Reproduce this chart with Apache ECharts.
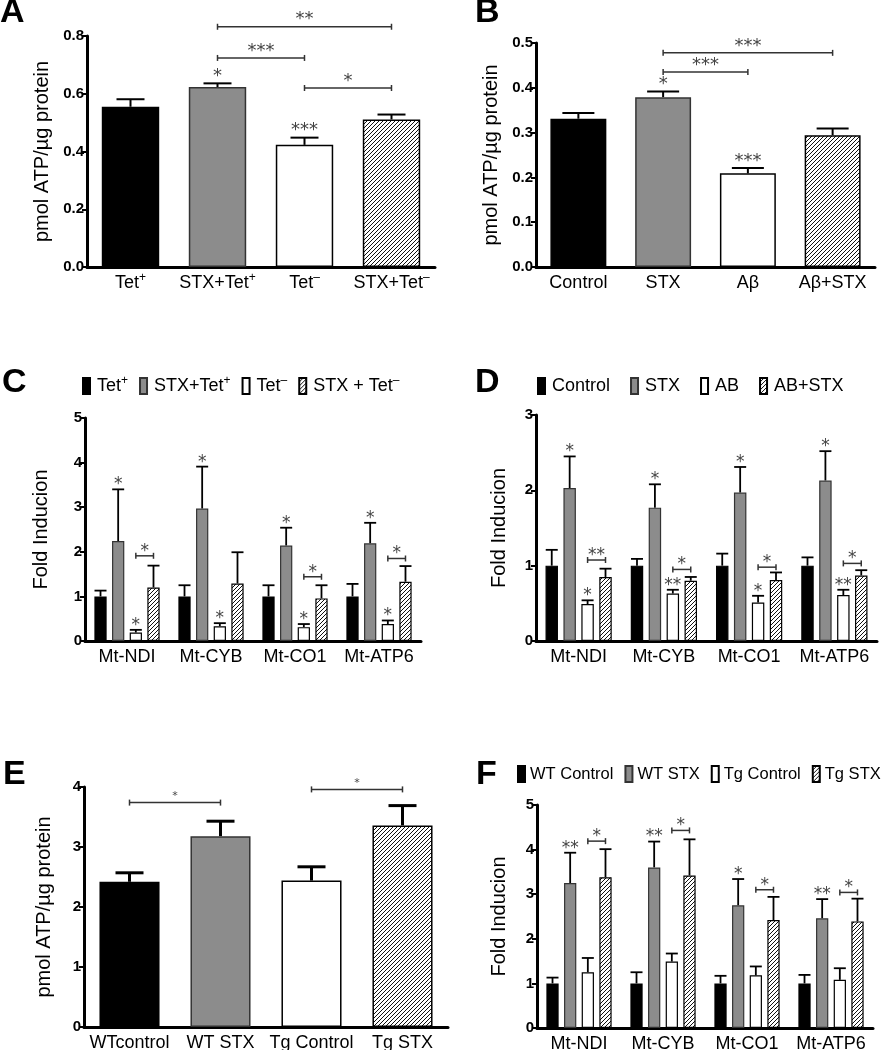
<!DOCTYPE html>
<html><head><meta charset="utf-8">
<script src="https://cdn.jsdelivr.net/npm/echarts@6/dist/echarts.min.js"></script>
<style>html,body{margin:0;padding:0;background:#fff}#c{width:882px;height:1050px}</style>
</head><body><div id="c"></div>
<script>
// ---------------- DATA ----------------
// Panel A
const catsA = ['Tet+', 'STX+Tet+', 'Tet-', 'STX+Tet-'];
const valsA = [0.555, 0.623, 0.423, 0.511];
const errA  = [0.581, 0.636, 0.448, 0.528];
const starsA = ['', '*', '***', ''];
const bracketsA = [[1, 0.832, 3, '**'], [1, 0.724, 2, '***'], [2, 0.62, 3, '*']];
// Panel B
const catsB = ['Control', 'STX', 'Aβ', 'Aβ+STX'];
const valsB = [0.331, 0.379, 0.209, 0.294];
const errB  = [0.344, 0.392, 0.221, 0.309];
const starsB = ['', '*', '***', ''];
const bracketsB = [[1, 0.478, 3, '***'], [1, 0.435, 2, '***']];
// Panel C
const genes = ['Mt-NDI', 'Mt-CYB', 'Mt-CO1', 'Mt-ATP6'];
const namesC = ['Tet+', 'STX+Tet+', 'Tet-', 'STX + Tet-'];
const valsC = [
  [1.0, 1.0, 1.0, 1.0],
  [2.24, 2.97, 2.14, 2.19],
  [0.19, 0.33, 0.31, 0.38],
  [1.20, 1.29, 0.955, 1.33]
];
const errC = [
  [1.13, 1.25, 1.25, 1.28],
  [3.40, 3.91, 2.54, 2.65],
  [0.25, 0.40, 0.38, 0.46],
  [1.69, 1.99, 1.25, 1.68]
];
const starsC = [
  ['', '', '', ''],
  ['*', '*', '*', '*'],
  ['*', '*', '*', '*'],
  ['', '', '', '']
];
const bracketsC = [[0, 1.91, '*'], [2, 1.44, '*'], [3, 1.85, '*']];
// Panel D
const namesD = ['Control', 'STX', 'AB', 'AB+STX'];
const valsD = [
  [1.0, 1.0, 1.0, 1.0],
  [2.03, 1.77, 1.97, 2.13],
  [0.49, 0.63, 0.51, 0.61],
  [0.85, 0.80, 0.81, 0.87]
];
const errD = [
  [1.21, 1.09, 1.16, 1.11],
  [2.45, 2.08, 2.31, 2.52],
  [0.54, 0.68, 0.60, 0.68],
  [0.96, 0.85, 0.91, 0.94]
];
const starsD = [
  ['', '', '', ''],
  ['*', '*', '*', '*'],
  ['*', '**', '*', '**'],
  ['', '', '', '']
];
const bracketsD = [[0, 1.075, '**'], [1, 0.95, '*'], [2, 0.98, '*'], [3, 1.03, '*']];
// Panel E
const catsE = ['WTcontrol', 'WT STX', 'Tg Control', 'Tg STX'];
const valsE = [2.42, 3.18, 2.44, 3.36];
const errE  = [2.57, 3.43, 2.67, 3.69];
const bracketsE = [[0, 3.74, 1, '*'], [2, 3.96, 3, '*']];
// Panel F
const namesF = ['WT Control', 'WT STX', 'Tg Control', 'Tg STX'];
const valsF = [
  [1.0, 1.0, 1.0, 1.0],
  [3.25, 3.60, 2.75, 2.46],
  [1.25, 1.49, 1.18, 1.08],
  [3.38, 3.42, 2.42, 2.39]
];
const errF = [
  [1.13, 1.25, 1.17, 1.19],
  [3.93, 4.18, 3.34, 2.89],
  [1.57, 1.67, 1.38, 1.34],
  [4.01, 4.23, 2.94, 2.90]
];
const starsF = [
  ['', '', '', ''],
  ['**', '**', '*', '**'],
  ['', '', '', ''],
  ['', '', '', '']
];
const bracketsF = [[0, 4.19, '*'], [1, 4.43, '*'], [2, 3.10, '*'], [3, 3.04, '*']];
// Axis ranges [min, max, interval, decimals]
const rangeA = [0, 0.8, 0.2, 1];
const rangeB = [0, 0.5, 0.1, 1];
const rangeC = [0, 5, 1, 0];
const rangeD = [0, 3, 1, 0];
const rangeE = [0, 4, 1, 0];
const rangeF = [0, 5, 1, 0];
const titleATP = 'pmol ATP/µg protein';
const titleFold = 'Fold Inducion';

// ---------------- STYLE ----------------
const FONT = '"Liberation Sans", Arial, sans-serif';
const STARFONT = '"DejaVu Sans", sans-serif';
function makeHatch() {
  const s = 4;
  const c = document.createElement('canvas');
  c.width = s; c.height = s;
  const g = c.getContext('2d');
  g.fillStyle = '#fff'; g.fillRect(0, 0, s, s);
  g.strokeStyle = '#111'; g.lineWidth = 1;
  g.beginPath();
  g.moveTo(-1, s + 1); g.lineTo(s + 1, -1);
  g.moveTo(-1, 1); g.lineTo(1, -1);
  g.moveTo(s - 1, s + 1); g.lineTo(s + 1, s - 1);
  g.stroke();
  return c;
}
const HATCH = { image: makeHatch(), repeat: 'repeat' };
const FILLS = ['#000', '#8c8c8c', '#fff', HATCH];
const BORDERS = ['#000', '#333', '#000', '#000'];
function richFor(fs) {
  return {
    n: { fontSize: fs, fontFamily: FONT, color: '#000', lineHeight: fs + 4 },
    s: { fontSize: 12, fontFamily: FONT, color: '#000', verticalAlign: 'top', lineHeight: 11 }
  };
}
function supFmt(s) {
  const parts = s.split(/(Tet)([+-])/);
  let out = '';
  let i = 0;
  while (i < parts.length) {
    if (parts[i] === 'Tet' && (parts[i + 1] === '+' || parts[i + 1] === '-')) {
      out += '{n|Tet}{s|' + (parts[i + 1] === '-' ? '–' : '+') + '}';
      i += 2;
    } else {
      if (parts[i]) out += '{n|' + parts[i] + '}';
      i++;
    }
  }
  return out;
}

const grids = [
  { left: 87, top: 36, width: 348, height: 231 },   // A
  { left: 536, top: 43, width: 339, height: 224 },  // B
  { left: 85, top: 418, width: 336, height: 223 },  // C
  { left: 536, top: 415, width: 341, height: 226 }, // D
  { left: 84, top: 787, width: 364, height: 240 },  // E
  { left: 537, top: 805, width: 336, height: 223 }  // F
].map(g => Object.assign({ outerBoundsMode: 'none', containLabel: false }, g));

function xAx(gi, cats) {
  return {
    type: 'category', gridIndex: gi, data: cats,
    axisLine: { lineStyle: { color: '#000', width: 3 } },
    axisTick: { alignWithLabel: true, length: 5, lineStyle: { color: '#000', width: 2 } },
    axisLabel: { color: '#000', fontSize: 18, fontFamily: FONT, margin: 5, interval: 0,
      formatter: supFmt, rich: richFor(18) }
  };
}
function yAx(gi, r, name, gap) {
  return {
    type: 'value', gridIndex: gi, min: r[0], max: r[1], interval: r[2],
    axisLine: { show: true, lineStyle: { color: '#000', width: 3 } },
    axisTick: { show: true, length: 5, lineStyle: { color: '#000', width: 2 } },
    splitLine: { show: false },
    axisLabel: { color: '#000', fontSize: 15, fontWeight: 'bold', fontFamily: FONT, margin: 3,
      formatter: v => v.toFixed(r[3]) },
    name: name, nameLocation: 'middle', nameGap: gap,
    nameTextStyle: { color: '#000', fontSize: 20, fontFamily: FONT }
  };
}

const BW = 0.146, BG = 0.44;
function grpOff(api, k) {
  if (k == null) return 0;
  const cw = api.size([1, 0])[0];
  return (k - 1.5) * cw * BW * (1 + BG);
}

function errSeries(ai, vals, errs, k, cap, lw) {
  return {
    type: 'custom', xAxisIndex: ai, yAxisIndex: ai, z: 1, silent: true,
    data: vals.map((v, i) => [i, v, errs[i]]),
    renderItem(params, api) {
      const p0 = api.coord([api.value(0), api.value(1)]);
      const p1 = api.coord([api.value(0), api.value(2)]);
      const x = p0[0] + grpOff(api, k);
      return { type: 'group', children: [
        { type: 'line', shape: { x1: x, y1: p0[1], x2: x, y2: p1[1] }, style: { stroke: '#000', lineWidth: lw } },
        { type: 'line', shape: { x1: x - cap / 2, y1: p1[1], x2: x + cap / 2, y2: p1[1] }, style: { stroke: '#000', lineWidth: lw } }
      ] };
    }
  };
}
function starSeries(ai, errs, stars, k, fs, dy) {
  return {
    type: 'custom', xAxisIndex: ai, yAxisIndex: ai, z: 5, silent: true,
    data: errs.map((e, i) => [i, e]),
    renderItem(params, api) {
      const t = stars[params.dataIndex];
      if (!t) return null;
      const p = api.coord([api.value(0), api.value(1)]);
      return { type: 'text', x: p[0] + grpOff(api, k), y: p[1] - dy,
        style: { text: t, fill: '#444', font: fs + 'px ' + STARFONT, align: 'center', verticalAlign: 'bottom' } };
    }
  };
}
// single-bar brackets: [c1, y, c2, text]
function bracketSeries(ai, br, fs, dy, tick, lw) {
  return {
    type: 'custom', xAxisIndex: ai, yAxisIndex: ai, z: 5, silent: true,
    data: br.map(b => [b[0], b[1], b[2]]),
    renderItem(params, api) {
      const b = br[params.dataIndex];
      const pa = api.coord([api.value(0), api.value(1)]);
      const pb = api.coord([api.value(2), api.value(1)]);
      return bracketShape(pa[0], pb[0], pa[1], b[3], fs, dy, tick, lw);
    }
  };
}
// grouped brackets between bar 2 and bar 3 inside a category: [c, y, text]
function grpBracketSeries(ai, br, fs, dy, tick, lw) {
  return {
    type: 'custom', xAxisIndex: ai, yAxisIndex: ai, z: 5, silent: true,
    data: br.map(b => [b[0], b[1]]),
    renderItem(params, api) {
      const b = br[params.dataIndex];
      const p = api.coord([api.value(0), api.value(1)]);
      return bracketShape(p[0] + grpOff(api, 2), p[0] + grpOff(api, 3), p[1], b[2], fs, dy, tick, lw);
    }
  };
}
function bracketShape(x1, x2, y, text, fs, dy, tick, lw) {
  const st = { stroke: '#333', lineWidth: lw };
  return { type: 'group', children: [
    { type: 'line', shape: { x1: x1, y1: y, x2: x2, y2: y }, style: st },
    { type: 'line', shape: { x1: x1, y1: y - tick, x2: x1, y2: y + tick }, style: st },
    { type: 'line', shape: { x1: x2, y1: y - tick, x2: x2, y2: y + tick }, style: st },
    { type: 'text', x: (x1 + x2) / 2, y: y - dy,
      style: { text: text, fill: '#444', font: fs + 'px ' + STARFONT, align: 'center', verticalAlign: 'bottom' } }
  ] };
}

function singleBar(ai, name, vals) {
  return {
    type: 'bar', name: name, xAxisIndex: ai, yAxisIndex: ai, barWidth: '66%', z: 2,
    data: vals.map((v, i) => ({ value: v, itemStyle: { color: FILLS[i], borderColor: BORDERS[i], borderWidth: 1.5 } }))
  };
}
function groupBars(ai, names, vals) {
  return names.map((n, k) => ({
    type: 'bar', name: n, xAxisIndex: ai, yAxisIndex: ai, barWidth: (BW * 100) + '%', barGap: (BG * 100) + '%', z: 2,
    itemStyle: { color: FILLS[k], borderColor: BORDERS[k], borderWidth: 1.2 },
    data: vals[k]
  }));
}

const series = [];
// A
series.push(singleBar(0, 'panelA', valsA));
series.push(errSeries(0, valsA, errA, null, 28, 2));
series.push(starSeries(0, errA, starsA, null, 18, -2));
series.push(bracketSeries(0, bracketsA, 18, -2, 3, 1.5));
// B
series.push(singleBar(1, 'panelB', valsB));
series.push(errSeries(1, valsB, errB, null, 32, 2));
series.push(starSeries(1, errB, starsB, null, 18, -2));
series.push(bracketSeries(1, bracketsB, 18, -2, 3, 1.5));
// C
groupBars(2, namesC, valsC).forEach(s => series.push(s));
for (let k = 0; k < 4; k++) {
  series.push(errSeries(2, valsC[k], errC[k], k, 12, 1.8));
  series.push(starSeries(2, errC[k], starsC[k], k, 17, -4));
}
series.push(grpBracketSeries(2, bracketsC, 17, -4, 3, 1.5));
// D
groupBars(3, namesD, valsD).forEach(s => series.push(s));
for (let k = 0; k < 4; k++) {
  series.push(errSeries(3, valsD[k], errD[k], k, 12, 1.8));
  series.push(starSeries(3, errD[k], starsD[k], k, 17, -4));
}
series.push(grpBracketSeries(3, bracketsD, 17, -4, 3, 1.5));
// E
series.push(singleBar(4, 'panelE', valsE));
series.push(errSeries(4, valsE, errE, null, 28, 3));
series.push(bracketSeries(4, bracketsE, 11, 1, 3, 1.5));
// F
groupBars(5, namesF, valsF).forEach(s => series.push(s));
for (let k = 0; k < 4; k++) {
  series.push(errSeries(5, valsF[k], errF[k], k, 12, 1.8));
  series.push(starSeries(5, errF[k], starsF[k], k, 17, -4));
}
series.push(grpBracketSeries(5, bracketsF, 17, -4, 3, 1.5));

function legendFor(names, left, top, gap, w, fs, pad) {
  return {
    data: names, left: left, top: top, width: w, padding: 0, orient: 'horizontal',
    itemWidth: 7, itemHeight: 16, itemGap: gap, icon: 'rect', selectedMode: false,
    formatter: supFmt,
    textStyle: { fontSize: fs, fontFamily: FONT, color: '#000', padding: [0, 0, 0, pad], rich: richFor(fs) }
  };
}

const panelLabels = [['A', 0, 26], ['B', 475, 26], ['C', 2, 396], ['D', 475, 396], ['E', 3, 788], ['F', 476, 788]];

const option = {
  animation: false,
  backgroundColor: '#fff',
  grid: grids,
  xAxis: [xAx(0, catsA), xAx(1, catsB), xAx(2, genes), xAx(3, genes), xAx(4, catsE), xAx(5, genes)],
  yAxis: [
    yAx(0, rangeA, titleATP, 35), yAx(1, rangeB, titleATP, 35),
    yAx(2, rangeC, titleFold, 34), yAx(3, rangeD, titleFold, 27),
    yAx(4, rangeE, titleATP, 30), yAx(5, rangeF, titleFold, 28)
  ],
  legend: [
    legendFor(namesC, 82, 375, 11, 380, 18, 2),
    legendFor(namesD, 537, 377, 20, 340, 18, 2),
    legendFor(namesF, 517, 765, 11, 430, 16.5, 0)
  ],
  graphic: panelLabels.map(p => ({
    type: 'text', left: p[1], top: p[2] - 30,
    style: { text: p[0], font: 'bold 34px ' + FONT, fill: '#000' }
  })),
  series: series
};
const chart = echarts.init(document.getElementById('c'));
chart.setOption(option);
</script></body></html>
